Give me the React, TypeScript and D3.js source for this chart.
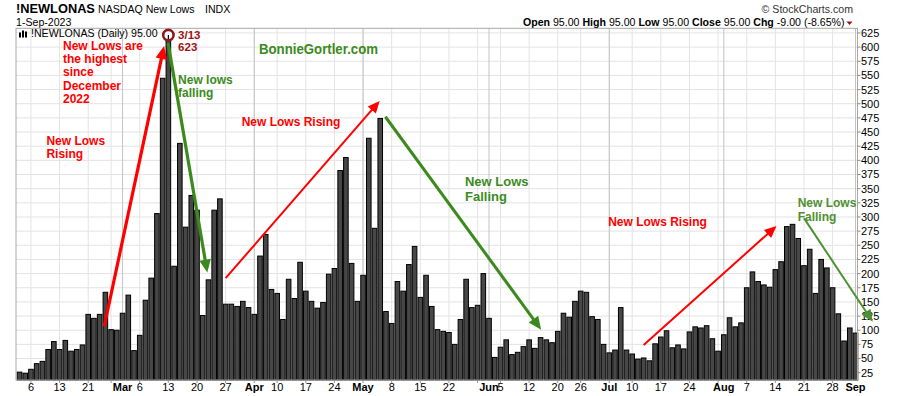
import React from 'react';
import * as d3 from 'd3';

// Trading days shown (Feb 2 – Sep 1, 2023)
const tradingMonths: [string, number[]][] = [
  ['2023-02', [2, 3, 6, 7, 8, 9, 10, 13, 14, 15, 16, 17, 21, 22, 23, 24, 27, 28]],
  ['2023-03', [1, 2, 3, 6, 7, 8, 9, 10, 13, 14, 15, 16, 17, 20, 21, 22, 23, 24, 27, 28, 29, 30, 31]],
  ['2023-04', [3, 4, 5, 6, 10, 11, 12, 13, 14, 17, 18, 19, 20, 21, 24, 25, 26, 27, 28]],
  ['2023-05', [1, 2, 3, 4, 5, 8, 9, 10, 11, 12, 15, 16, 17, 18, 19, 22, 23, 24, 25, 26, 30, 31]],
  ['2023-06', [1, 2, 5, 6, 7, 8, 9, 12, 13, 14, 15, 16, 20, 21, 22, 23, 26, 27, 28, 29, 30]],
  ['2023-07', [3, 5, 6, 7, 10, 11, 12, 13, 14, 17, 18, 19, 20, 21, 24, 25, 26, 27, 28, 31]],
  ['2023-08', [1, 2, 3, 4, 7, 8, 9, 10, 11, 14, 15, 16, 17, 18, 21, 22, 23, 24, 25, 28, 29, 30, 31]],
  ['2023-09', [1]],
];

// Daily NASDAQ new lows
const newLows: number[] = [
  26, 24, 31, 41, 45, 66, 80, 66, 82, 63, 66, 74, 128, 121, 128, 167, 101, 100,
  130, 162, 64, 91, 153, 192, 306, 545, 623, 213, 430, 282, 338, 312, 126, 189, 312, 332, 146, 146, 142, 151, 140,
  128, 231, 269, 172, 165, 119, 190, 156, 220, 169, 151, 139, 149, 199, 209, 382, 405, 218, 151,
  197, 439, 280, 474, 133, 112, 186, 169, 216, 248, 158, 197, 142, 101, 98, 96, 75, 119, 190, 140, 144, 200,
  121, 52, 70, 83, 57, 61, 71, 83, 68, 87, 83, 78, 98, 130, 123, 151, 169, 167, 124, 119, 75,
  60, 65, 140, 65, 58, 49, 51, 46, 76, 88, 99, 69, 74, 67, 97, 106, 104, 108, 85, 63,
  92, 122, 106, 113, 175, 203, 186, 180, 176, 207, 221, 283, 287, 262, 214, 243, 165, 225, 210, 175, 129, 81, 104,
  95,
];

const yTicks: number[] = [25, 50, 75, 100, 125, 150, 175, 200, 225, 250, 275, 300, 325, 350, 375, 400, 425, 450, 475, 500, 525, 550, 575, 600, 625];

const xTickLabels: [string, string][] = [
  ['2023-02-06', '6'], ['2023-02-13', '13'], ['2023-02-21', '21'], ['2023-03-01', 'Mar'], ['2023-03-06', '6'],
  ['2023-03-13', '13'], ['2023-03-20', '20'], ['2023-03-27', '27'], ['2023-04-03', 'Apr'], ['2023-04-10', '10'],
  ['2023-04-17', '17'], ['2023-04-24', '24'], ['2023-05-01', 'May'], ['2023-05-08', '8'], ['2023-05-15', '15'],
  ['2023-05-22', '22'], ['2023-06-01', 'Jun'], ['2023-06-05', '5'], ['2023-06-12', '12'], ['2023-06-20', '20'],
  ['2023-06-26', '26'], ['2023-07-03', 'Jul'], ['2023-07-10', '10'], ['2023-07-17', '17'], ['2023-07-24', '24'],
  ['2023-08-01', 'Aug'], ['2023-08-07', '7'], ['2023-08-14', '14'], ['2023-08-21', '21'], ['2023-08-28', '28'],
  ['2023-09-01', 'Sep'],
];

const pad = (n: number) => (n < 10 ? '0' + n : '' + n);
const dates: string[] = tradingMonths.flatMap(([m, days]) => days.map((d) => `${m}-${pad(d)}`));

const W = 900;
const H = 396;
const plotL = 16;
const plotR = 857.5;
const plotT = 28.3;
const plotB = 380;
const FONT = 'Liberation Sans, Arial, Helvetica, sans-serif';
const RED = '#ff0000';
const GREEN = '#3b8b1c';
const OLIVE = '#4f9033';
const DARKRED = '#9c1414';

type Arrow = { from: [number, number]; to: [number, number]; color: string; width: number; head: number };
// annotation arrows in data space: [bar index, value]
const arrows: Arrow[] = [
  { from: [14.8, 107], to: [25.25, 602], color: RED, width: 3.2, head: 13 },
  { from: [25.95, 607], to: [32.8, 202], color: GREEN, width: 3.2, head: 13 },
  { from: [36.0, 192], to: [62.9, 505], color: RED, width: 2, head: 12 },
  { from: [63.9, 477], to: [91.1, 101], color: GREEN, width: 3, head: 13 },
  { from: [109.0, 74], to: [132.2, 284], color: RED, width: 2, head: 12 },
  { from: [137.0, 298], to: [149.0, 115], color: OLIVE, width: 2, head: 12 },
];

type Note = { at: [number, number]; lines: string[]; color: string; size: number; lh: number };
// annotation texts anchored in data space: [bar index, value] of first baseline
const notes: Note[] = [
  { at: [7.6, 595], lines: ['New Lows are', 'the highest', 'since', 'December', '2022'], color: RED, size: 12, lh: 13.2 },
  { at: [4.7, 427], lines: ['New Lows', 'Rising'], color: RED, size: 12, lh: 13 },
  { at: [27.7, 615], lines: ['3/13', '623'], color: DARKRED, size: 11.5, lh: 12.6 },
  { at: [27.7, 534], lines: ['New lows', 'falling'], color: GREEN, size: 12, lh: 12.5 },
  { at: [38.8, 461], lines: ['New Lows Rising'], color: RED, size: 12, lh: 13 },
  { at: [77.8, 354], lines: ['New Lows', 'Falling'], color: GREEN, size: 13, lh: 15 },
  { at: [102.8, 284], lines: ['New Lows Rising'], color: RED, size: 12, lh: 13 },
  { at: [135.9, 318], lines: ['New Lows', 'Falling'], color: OLIVE, size: 12, lh: 14 },
];

export default function App() {
  const x = d3.scaleBand<string>().domain(dates).range([16.63, 858.37]).padding(0);
  const y = d3.scaleLinear().domain([12.1, 633.2]).range([plotB, plotT]);
  const step = x.step();
  const cx = (d: string) => (x(d) as number) + step / 2;
  const ix = (i: number) => x.range()[0] + step / 2 + i * step;
  const barW = step * 0.8;

  const weekStarts = dates.filter((d, i) => {
    if (i === 0) return false;
    const a = d3.timeMonday.floor(new Date(dates[i - 1] + 'T12:00:00'));
    const b = d3.timeMonday.floor(new Date(d + 'T12:00:00'));
    return a.getTime() !== b.getTime();
  });
  const monthStarts = dates.filter((d, i) => i > 0 && d.slice(0, 7) !== dates[i - 1].slice(0, 7));
  const monthLabels = new Set(['Mar', 'Apr', 'May', 'Jun', 'Jul', 'Aug', 'Sep']);

  const peakIdx = newLows.indexOf(d3.max(newLows) as number);

  return (
    <svg width={W} height={H} style={{ position: 'absolute', left: 0, top: 0, background: '#fff' }} fontFamily={FONT}>
      <rect x={0} y={0} width={W} height={H} fill="#fff" />
      {/* header */}
      <text x={16} y={13.3} fontSize={12.8} fontWeight="bold" fill="#000">!NEWLONAS</text>
      <text x={98} y={12.9} fontSize={10.6} fill="#000">NASDAQ New Lows</text>
      <text x={205} y={12.9} fontSize={10.6} fill="#000">INDX</text>
      <text x={16} y={26} fontSize={10.6} fill="#000">1-Sep-2023</text>
      <text x={853} y={12.5} fontSize={10.6} fill="#333" textAnchor="end">© StockCharts.com</text>
      <text x={844.5} y={26} fontSize={10.6} fill="#000" textAnchor="end">
        <tspan fontWeight="bold">Open</tspan> 95.00  <tspan fontWeight="bold">High</tspan> 95.00  <tspan fontWeight="bold">Low</tspan> 95.00  <tspan fontWeight="bold">Close</tspan> 95.00  <tspan fontWeight="bold">Chg</tspan> -9.00 (-8.65%)
      </text>
      <path d="M846.5,21.5 L852.5,21.5 L849.5,25 Z" fill={DARKRED} />

      {/* grid */}
      {yTicks.map((t) => (
        <line key={'h' + t} x1={plotL} x2={plotR} y1={y(t)} y2={y(t)} stroke="#e3e3e3" strokeWidth={1} />
      ))}
      {weekStarts.map((d) => (
        <line key={'w' + d} x1={cx(d)} x2={cx(d)} y1={plotT} y2={plotB} stroke="#e3e3e3" strokeWidth={1} />
      ))}
      {monthStarts.map((d) => (
        <line key={'m' + d} x1={cx(d)} x2={cx(d)} y1={plotT} y2={plotB} stroke="#c4c4c4" strokeWidth={1} />
      ))}

      {/* bars */}
      {dates.map((d, i) => (
        <rect
          key={d}
          x={cx(d) - barW / 2}
          y={y(newLows[i])}
          width={barW}
          height={plotB - y(newLows[i])}
          fill="#474747"
          stroke="#000"
          strokeWidth={1}
        />
      ))}

      {/* frame */}
      <rect x={plotL} y={plotT} width={plotR - plotL} height={plotB - plotT} fill="none" stroke="#a8a8a8" strokeWidth={1} />

      {/* y axis */}
      {yTicks.map((t) => (
        <g key={'yl' + t}>
          <line x1={plotR} x2={plotR + 3} y1={y(t)} y2={y(t)} stroke="#888" />
          <text x={plotR + 3.5} y={y(t)} dy="0.36em" fontSize={11} fill="#000">{t}</text>
        </g>
      ))}

      {/* x axis */}
      {weekStarts.map((d) => (
        <line key={'xt' + d} x1={cx(d)} x2={cx(d)} y1={plotB} y2={plotB + 3} stroke="#999" />
      ))}
      {xTickLabels.map(([d, lab]) => (
        <text
          key={'xl' + d}
          x={cx(d)}
          y={391}
          fontSize={11}
          textAnchor="middle"
          fontWeight={monthLabels.has(lab) ? 'bold' : 'normal'}
          fill="#000"
        >
          {lab}
        </text>
      ))}

      {/* legend inside plot */}
      <g>
        <rect x={19} y={32.5} width={2} height={5} fill="#000" />
        <rect x={22} y={30.5} width={2} height={7} fill="#000" />
        <rect x={25} y={31.5} width={2} height={6} fill="#000" />
        <text x={31} y={37.4} fontSize={10.6} fill="#000">!NEWLONAS (Daily) 95.00</text>
      </g>

      {/* annotation arrows */}
      {arrows.map((a, k) => {
        const x1 = ix(a.from[0]);
        const y1 = y(a.from[1]);
        const x2 = ix(a.to[0]);
        const y2 = y(a.to[1]);
        const ang = Math.atan2(y2 - y1, x2 - x1);
        const h = a.head;
        const hw = h * 0.45;
        const bx = x2 - h * Math.cos(ang);
        const by = y2 - h * Math.sin(ang);
        const px = -Math.sin(ang) * hw;
        const py = Math.cos(ang) * hw;
        return (
          <g key={'ar' + k}>
            <line x1={x1} y1={y1} x2={bx + h * 0.2 * Math.cos(ang)} y2={by + h * 0.2 * Math.sin(ang)} stroke={a.color} strokeWidth={a.width} />
            <path d={`M${x2},${y2} L${bx + px},${by + py} L${bx - px},${by - py} Z`} fill={a.color} />
          </g>
        );
      })}

      {/* peak marker */}
      <circle cx={ix(peakIdx)} cy={y(newLows[peakIdx]) + 1} r={5.2} fill="#fff" stroke="#8b1a1a" strokeWidth={2.6} />
      <line x1={ix(peakIdx)} x2={ix(peakIdx)} y1={y(newLows[peakIdx]) + 1} y2={y(newLows[peakIdx]) + 5} stroke="#000" strokeWidth={1.2} />

      {/* annotation text */}
      {notes.map((n, k) => (
        <text key={'n' + k} x={ix(n.at[0])} y={y(n.at[1])} fontSize={n.size} fontWeight="bold" fill={n.color}>
          {n.lines.map((l, j) => (
            <tspan key={j} x={ix(n.at[0])} dy={j === 0 ? 0 : n.lh}>{l}</tspan>
          ))}
        </text>
      ))}
      <text x={259} y={53.5} fontSize={14} fontWeight="bold" fill={GREEN} textLength={119} lengthAdjust="spacingAndGlyphs">BonnieGortler.com</text>
    </svg>
  );
}
